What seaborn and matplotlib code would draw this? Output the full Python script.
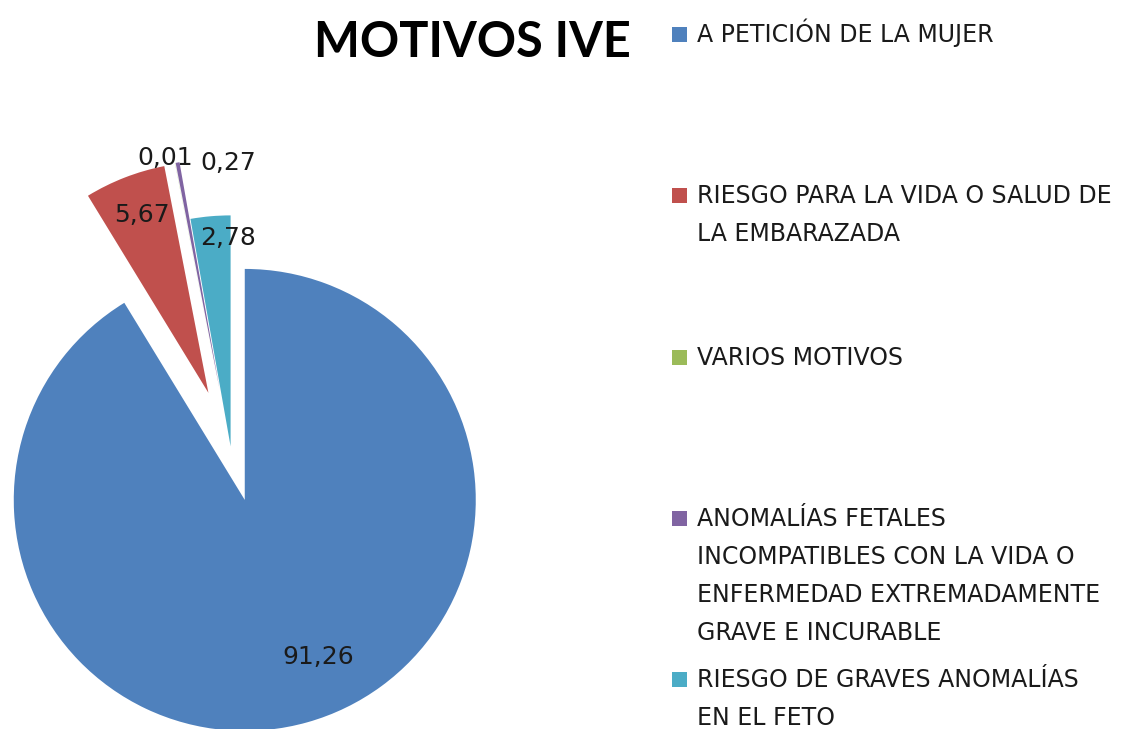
import matplotlib
matplotlib.use("Agg")
import matplotlib.pyplot as plt
import matplotlib.patches as mpatches
import seaborn as sns

categories = [
    "A PETICIÓN DE LA MUJER",
    "RIESGO PARA LA VIDA O SALUD DE\nLA EMBARAZADA",
    "VARIOS MOTIVOS",
    "ANOMALÍAS FETALES\nINCOMPATIBLES CON LA VIDA O\nENFERMEDAD EXTREMADAMENTE\nGRAVE E INCURABLE",
    "RIESGO DE GRAVES ANOMALÍAS\nEN EL FETO",
]
values = [91.26, 5.67, 0.01, 0.27, 2.78]
colors = ["#4F81BD", "#C0504D", "#9BBB59", "#8064A2", "#4BACC6"]
explode = [0.22, 0.27, 0.27, 0.27, 0.02]
# label positions in pie units (radius = 1)
label_xy = [(0.377, -0.892), (-0.385, 1.022), (-0.286, 1.268), (-0.013, 1.247), (-0.013, 0.922)]

W, H = 1138, 729
sns.set_theme(style="white")
plt.rcParams["font.family"] = ["DejaVu Sans"]

fig = plt.figure(figsize=(W / 100, H / 100), dpi=100)
ax = fig.add_axes([0, 0, 1, 1])

# pie centre and radius in pixels
cx, cy, R = 231, 451, 231
ax.pie(values, colors=colors, explode=explode, startangle=90, counterclock=False,
       wedgeprops=dict(linewidth=0))
ax.set_xlim(-cx / R, (W - cx) / R)
ax.set_ylim((cy - H) / R, cy / R)
ax.axis("off")

for v, (x, y) in zip(values, label_xy):
    ax.text(x, y, f"{v:.2f}".replace(".", ","), ha="center", va="center",
            fontsize=18, color="#1a1a1a")

fig.text(472 / W, 1 - 57 / H, "MOTIVOS IVE", ha="center", va="baseline",
         fontsize=35, fontweight="bold", color="black", family=["Lato", "DejaVu Sans"])

# legend
base0, step, line_h = 42, 161.3, 38
for i, (lab, col) in enumerate(zip(categories, colors)):
    b = base0 + i * step
    fig.patches.append(mpatches.Rectangle((672 / W, 1 - b / H), 15 / W, 15 / H,
                                          transform=fig.transFigure, facecolor=col,
                                          edgecolor="none"))
    for j, line in enumerate(lab.split("\n")):
        fig.text(697 / W, 1 - (b + j * line_h) / H, line, ha="left", va="baseline",
                 fontsize=17, color="#1a1a1a")

fig.savefig("out.png", dpi=100)
